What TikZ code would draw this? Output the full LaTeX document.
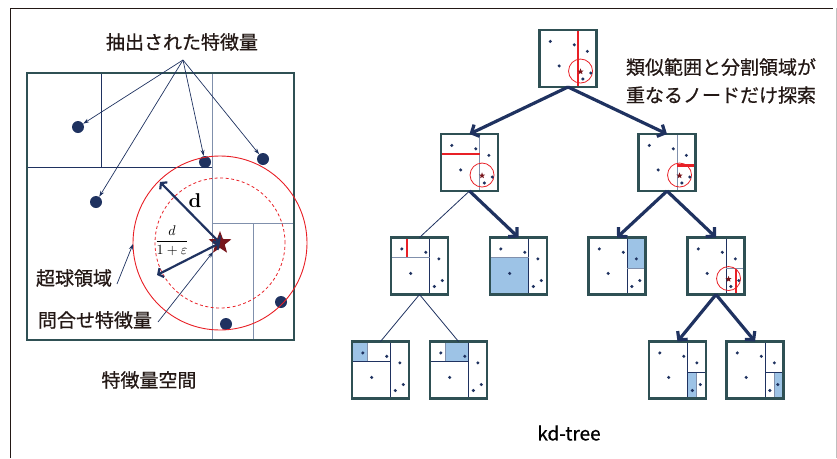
\documentclass[tikz,border=0pt]{standalone}
\usepackage{fontspec}
\newfontfamily\jp{Noto Sans CJK JP}[RawFeature={embolden=0.7}]
\usetikzlibrary{arrows.meta,shapes.geometric}
\definecolor{navy}{RGB}{31,50,96}
\definecolor{boxteal}{RGB}{47,80,84}
\definecolor{gline}{RGB}{128,144,172}
\definecolor{rline}{RGB}{232,32,38}
\definecolor{bfill}{RGB}{157,195,230}
\definecolor{starred}{RGB}{120,22,28}
\definecolor{framec}{RGB}{35,24,21}
\definecolor{txt}{RGB}{35,24,21}
\tikzset{
  kdnode/.style={minimum width=57pt,minimum height=57pt,inner sep=0pt,outer sep=0pt},
  kdborder/.style={draw=boxteal,line width=2.2pt},
  nl/.style={draw=navy,line width=0.8pt},
  gl/.style={draw=gline,line width=1pt},
  rl/.style={draw=rline,line width=2.4pt},
  fillb/.style={fill=bfill},
  tarrow/.style={draw=navy,line width=3.2pt,-{Straight Barb[length=6pt,width=13pt]}},
  tline/.style={draw=navy,line width=0.8pt},
  larrow/.style={draw=navy,line width=0.7pt,-{Stealth[length=6pt,width=4pt]}},
  dbl/.style={draw=navy,line width=2.2pt,{Straight Barb[length=4pt,width=10pt]}-{Straight Barb[length=4pt,width=10pt]}},
  bigdot/.style={circle,fill=navy,minimum size=12pt,inner sep=0pt},
  jlabel/.style={font=\jp\fontsize{19}{26}\selectfont,text=txt,inner sep=0pt},
}
\newcommand{\kdstar}{%
  \node[star,star points=5,star point ratio=2.4,fill=starred,minimum size=6.5pt,inner sep=0pt] at (0.72,0.73) {};
  \draw[rline,line width=0.8pt] (0.72,0.72) circle (12pt);
}
\newcommand{\kdbox}[3]{%
  \node[kdnode] (#1) at (#2) {};
  \begin{scope}[shift={(#1.north west)},x=57pt,y=-57pt]
    #3
    \foreach \p in {(0.19,0.20),(0.61,0.26),(0.84,0.375),(0.345,0.63),(0.90,0.755),(0.76,0.86)}
      \fill[navy] \p circle (1.7pt);
  \end{scope}
  \draw[kdborder] (#1.north west) rectangle (#1.south east);
}
\begin{document}
\begin{tikzpicture}[x=1pt,y=-1pt]
\useasboundingbox (0,0) rectangle (837,458);
% frame
\draw[framec,line width=0.9pt] (10.5,458) -- (10.5,8.5) -- (833,8.5);
\draw[gray!50,line width=1pt] (836,8) -- (836,458);

% ===== left panel =====
\draw[nl] (101,73) -- (101,167);
\draw[nl] (27,167) -- (212,167);
\draw[gl] (212,73) -- (212,340);
\draw[gl] (212,223) -- (294,223);
\draw[gl] (253,223) -- (253,340);
\draw[draw=boxteal,line width=2.5pt] (27,73) rectangle (294,340);

\node[bigdot] (p1) at (78,127) {};
\node[bigdot] (p2) at (205,162) {};
\node[bigdot] (p3) at (263,159) {};
\node[bigdot] (p4) at (96,202) {};
\node[bigdot] (p5) at (281,302) {};
\node[bigdot] (p6) at (226,324) {};

\draw[rline,line width=0.9pt] (220,243) circle (87pt);
\draw[rline,line width=0.8pt,dash pattern=on 3pt off 2.5pt] (220,243) circle (65pt);

\node[star,star points=5,star point ratio=2.4,fill=starred,minimum size=24pt,inner sep=0pt] (q) at (220,243) {};

\coordinate (dA) at (160,182);
\coordinate (dB) at (157,275);
\draw[dbl] (dA) -- (q.center);
\draw[dbl] (dB) -- (q.center);
\node[scale=2.0] (dl) at (195,201) {\textbf{d}};
\node[scale=1.4] (fr) at (172,241) {$\displaystyle\frac{d}{1+\varepsilon}$};

\node[jlabel] (ext) at (182,42) {抽出された特徴量};
\coordinate (src) at (183,60);
\draw[larrow] (src) -- (p1);
\draw[larrow] (src) -- (p4);
\draw[larrow] (src) -- (p2);
\draw[larrow] (src) -- (p3);

\node[jlabel] (hs) at (74,278) {超球領域};
\coordinate (hsA) at (117,284);
\coordinate (hsB) at (133,244);
\draw[larrow] (hsA) -- (hsB);

\node[jlabel] (qf) at (95,320) {問合せ特徴量};
\coordinate (qfA) at (158,322);
\draw[larrow] (qfA) -- (q);

\node[jlabel] (fs) at (149,380) {特徴量空間};

% ===== kd-tree =====
\kdbox{t}{568,58.5}{\draw[rl] (0.68,0) -- (0.68,1); \kdstar}
\kdbox{a}{469.5,162.5}{\draw[gl] (0.68,0) -- (0.68,1); \draw[rl] (0,0.35) -- (0.68,0.35); \kdstar}
\kdbox{b}{667,162.5}{\draw[gl] (0.68,0) -- (0.68,1); \draw[rl] (0.68,0.55) -- (1,0.55); \kdstar}
\kdbox{c}{419.5,266}{\draw[nl] (0.68,0) -- (0.68,1); \draw[gl] (0,0.35) -- (0.68,0.35); \draw[rl] (0.28,0) -- (0.28,0.35);}
\kdbox{d}{518.5,266}{\fill[fillb] (0,0.35) rectangle (0.68,1); \draw[nl] (0.68,0) -- (0.68,1); \draw[gl] (0,0.35) -- (0.68,0.35);}
\kdbox{e}{617,266}{\fill[fillb] (0.68,0) rectangle (1,0.55); \draw[nl] (0.68,0) -- (0.68,1); \draw[gl] (0.68,0.55) -- (1,0.55);}
\kdbox{f}{716,266}{\draw[nl] (0.68,0) -- (0.68,1); \draw[gl] (0.68,0.55) -- (1,0.55); \draw[rl] (0.85,0.55) -- (0.85,1); \kdstar}
\kdbox{g}{380.5,370}{\fill[fillb] (0,0) rectangle (0.28,0.35); \draw[nl] (0.68,0) -- (0.68,1); \draw[nl] (0,0.35) -- (0.68,0.35); \draw[gl] (0.28,0) -- (0.28,0.35);}
\kdbox{h}{458.5,370}{\fill[fillb] (0.28,0) rectangle (0.68,0.35); \draw[nl] (0.68,0) -- (0.68,1); \draw[nl] (0,0.35) -- (0.68,0.35); \draw[gl] (0.28,0) -- (0.28,0.35);}
\kdbox{i}{677.5,370}{\fill[fillb] (0.68,0.55) rectangle (0.84,1); \draw[nl] (0.68,0) -- (0.68,1); \draw[nl] (0.68,0.55) -- (1,0.55); \draw[gl] (0.84,0.55) -- (0.84,1);}
\kdbox{j}{755,370}{\fill[fillb] (0.84,0.55) rectangle (1,1); \draw[nl] (0.68,0) -- (0.68,1); \draw[nl] (0.68,0.55) -- (1,0.55); \draw[gl] (0.84,0.55) -- (0.84,1);}

\draw[tarrow] (t.south) -- (a.north);
\draw[tarrow] (t.south) -- (b.north);
\draw[tline] (a.south) -- (c.north);
\draw[tarrow] (a.south) -- (d.north);
\draw[tarrow] (b.south) -- (e.north);
\draw[tarrow] (b.south) -- (f.north);
\draw[tline] (c.south) -- (g.north);
\draw[tline] (c.south) -- (h.north);
\draw[tarrow] (f.south) -- (i.north);
\draw[tarrow] (f.south) -- (j.north);

\node[jlabel,align=left,font=\jp\fontsize{19}{28}\selectfont] (note) at (721,81) {類似範囲と分割領域が\\重なるノードだけ探索};
\node[font=\jp\fontsize{19}{24}\selectfont,text=black,inner sep=0pt] (kd) at (569,433) {kd-tree};
\end{tikzpicture}
\end{document}
